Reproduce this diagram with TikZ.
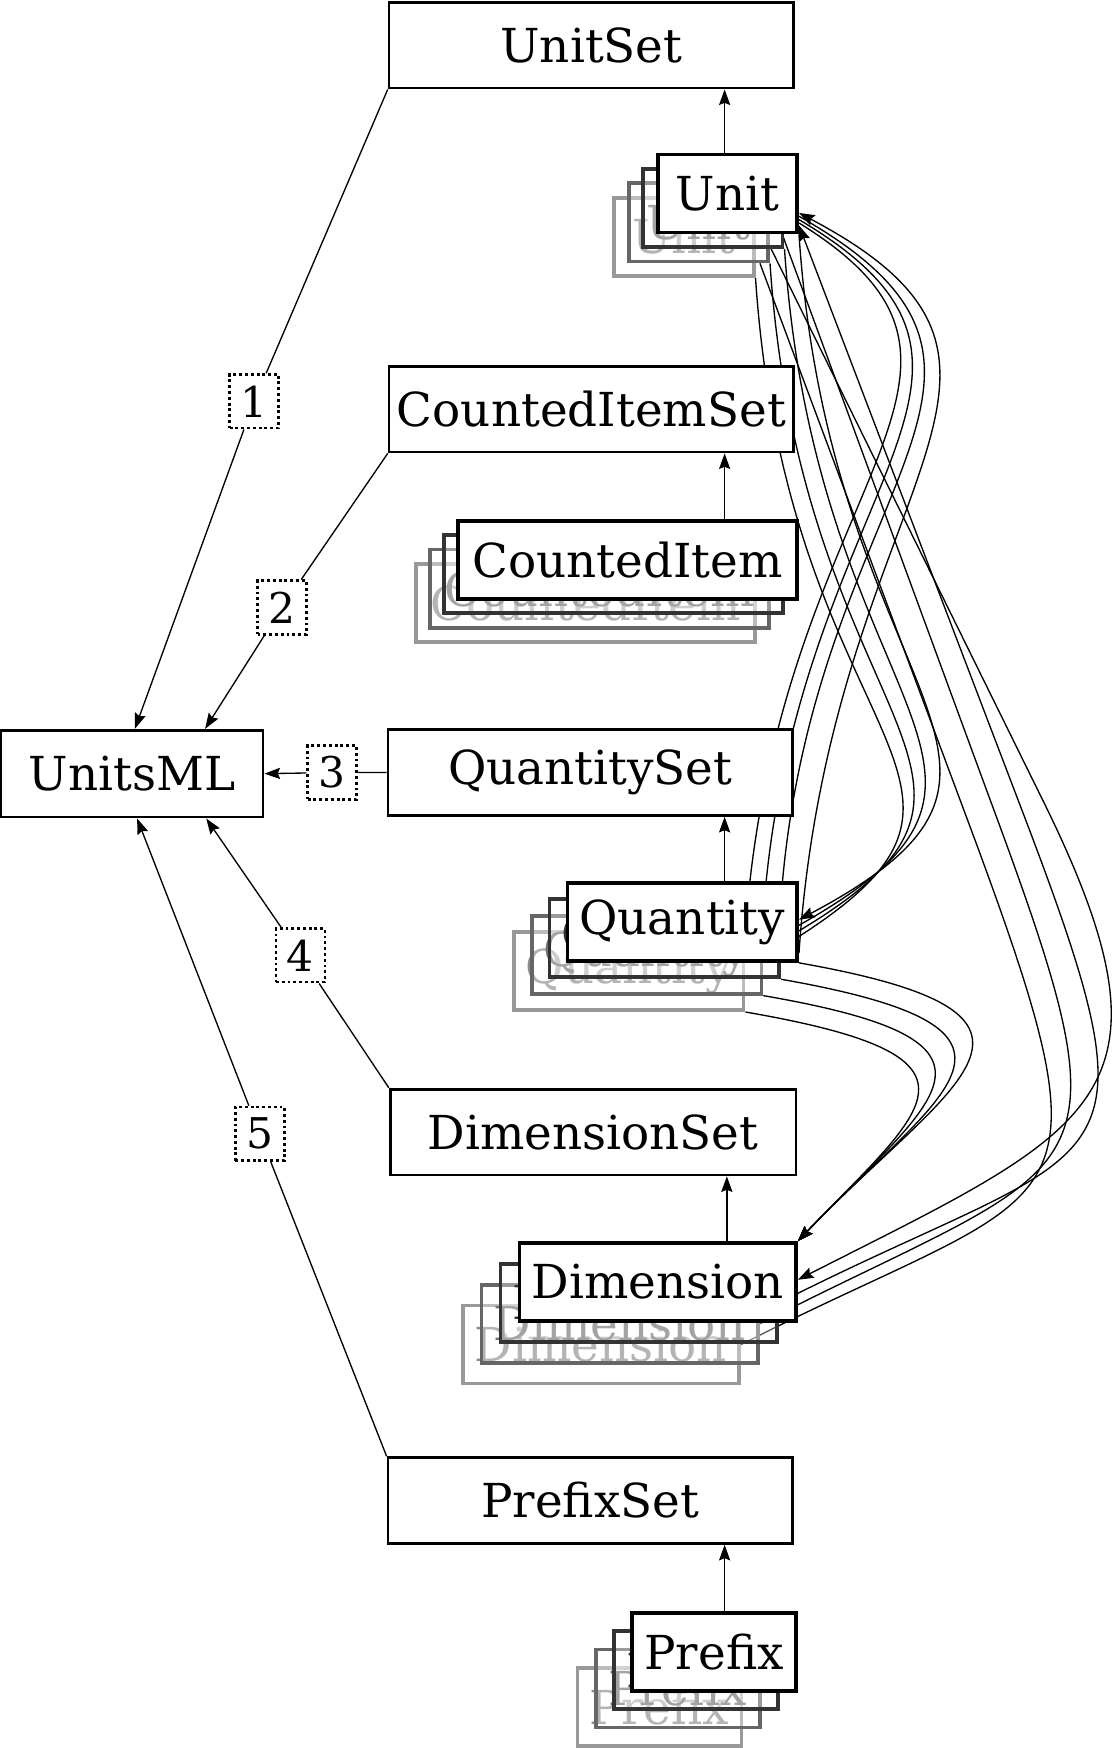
\documentclass[tikz,border=0pt]{standalone}
\usepackage{fontspec}
\setmainfont{DejaVu Serif}
\usetikzlibrary{arrows.meta,backgrounds,calc}
\newcommand{\dgfont}{\fontsize{42pt}{50pt}\selectfont}
\newcommand{\lblfont}{\fontsize{38pt}{44pt}\selectfont}
\newcommand{\mkstack}[7]{%
  \node[layerbox, lay3, minimum width=#4] (#13) at ({#2+3*(#5)},{#3+3*(#6)}) {#7};
  \node[layerbox, lay2, minimum width=#4] (#12) at ({#2+2*(#5)},{#3+2*(#6)}) {#7};
  \node[layerbox, lay1, minimum width=#4] (#11) at ({#2+(#5)},{#3+(#6)}) {#7};
  \node[layerbox, frontbox, minimum width=#4] (#10) at (#2,#3) {#7};
}
\begin{document}
\begin{tikzpicture}[x=1pt,y=-1pt,
  >={Stealth[length=14pt,width=10pt,inset=2pt]},
  setbox/.style={draw, line width=2.4pt, fill=white, minimum width=363pt, minimum height=77pt, font=\dgfont, inner sep=0pt},
  layerbox/.style={draw, line width=3.4pt, minimum height=70pt, font=\dgfont, inner sep=0pt},
  frontbox/.style={fill=white, draw=black, text=black},
  lay1/.style={fill=white, fill opacity=0.35, text opacity=1, draw=black!80, text=black!80},
  lay2/.style={fill=white, fill opacity=0.35, text opacity=1, draw=black!60, text=black!55},
  lay3/.style={fill=white, fill opacity=0.35, text opacity=1, draw=black!40, text=black!45},
  lbl/.style={draw, dash pattern=on 2.6pt off 2.6pt, line width=2.4pt, fill=white, minimum width=44pt, minimum height=48pt, font=\lblfont, inner sep=0pt},
  conn/.style={line width=1.2pt}
]
\useasboundingbox (0,0) rectangle (998,1568);

% set boxes
\node[setbox] (UnitSet) at (530.5,40.5) {UnitSet};
\node[setbox] (CISet) at (530.5,367) {CountedItemSet};
\node[setbox] (QSet) at (529.5,693) {QuantitySet};
\node[setbox, minimum width=364pt] (DSet) at (532,1015.5) {DimensionSet};
\node[setbox] (PSet) at (529.5,1346) {PrefixSet};
\node[setbox, minimum width=235pt, minimum height=78pt] (UnitsML) at (118.5,694) {UnitsML};

% stacks
\mkstack{U}{652.5}{173.5}{125pt}{-13}{13}{Unit}
\mkstack{C}{563}{502}{304pt}{-12.5}{13}{CountedItem}
\mkstack{Q}{612}{827}{206pt}{-16}{14.7}{Quantity}
\mkstack{D}{590}{1150}{248pt}{-17}{18.7}{Dimension}
\mkstack{P}{640.5}{1482}{147pt}{-16.3}{16.3}{Prefix}

% labels
\node[lbl] (L1) at (228,360) {1};
\node[lbl] (L2) at (253,545) {2};
\node[lbl] (L3) at (298,693) {3};
\node[lbl] (L4) at (269.5,857) {4};
\node[lbl] (L5) at (233,1017) {5};

\coordinate (cx) at (650,0);
\coordinate (cxd) at (652,0);

% vertical arrows
\draw[conn,->] (U0.north -| cx) -- (UnitSet.south -| cx);
\draw[conn,->] (C0.north -| cx) -- (CISet.south -| cx);
\draw[conn,->] (Q0.north -| cx) -- (QSet.south -| cx);
\draw[conn,->] (D0.north -| cxd) -- (DSet.south -| cxd);
\draw[conn,->] (P0.north -| cx) -- (PSet.south -| cx);

% left connectors
\draw[conn,->] (UnitSet.south west) -- (L1) -- ($(UnitsML.north)+(2.5,0)$);
\draw[conn,->] (CISet.south west) -- (L2) -- ($(UnitsML.north)+(65.5,0)$);
\draw[conn,->] (QSet.west) -- (L3) -- (UnitsML.east);
\draw[conn,->] (DSet.north west) -- (L4) -- ($(UnitsML.south)+(66.5,0)$);
\draw[conn,->] (PSet.north west) -- (L5) -- ($(UnitsML.south)+(4.5,0)$);

\begin{pgfonlayer}{background}
% Quantity -> Unit
\draw[conn,->] ($(Q0.east)+(0,28)$) .. controls (745,430) and (980,330) .. ($(U0.east)+(0,17.5)$);
\draw[conn] (Q1.north east) .. controls (729,430) and (965,335) .. ($(U0.east)+(0,20.5)$);
\draw[conn] (Q2.north east) .. controls (713,430) and (950,335) .. ($(U0.east)+(0,23.5)$);
\draw[conn] (Q3.north east) .. controls (697,430) and (935,335) .. ($(U0.east)+(0,26.5)$);
% Unit -> Quantity
\draw[conn,->] (U0.south east) .. controls (745,634) and (980,685) .. ($(Q0.east)+(0,-2)$);
\draw[conn] (U1.south east) .. controls (732,647) and (965,690) .. ($(Q0.east)+(0,3)$);
\draw[conn] (U2.south east) .. controls (719,660) and (950,695) .. ($(Q0.east)+(0,8)$);
\draw[conn] (U3.south east) .. controls (706,673) and (935,700) .. ($(Q0.east)+(0,13)$);
% Unit <-> Dimension
\draw[conn,->] ($(U1.south east)+(-12,0)$) -- (935,717) .. controls (1068,986) and (981,1013) .. ($(D0.east)+(0,-2)$);
\draw[conn,<-] ($(U0.south east)+(0,-8)$) -- (913,717) .. controls (1049,1072) and (1000,1016) .. (D1.east);
\draw[conn] ($(U0.south east)+(-15,0)$) -- (888,717) .. controls (1020,1073) and (983,1034) .. (D2.east);
\draw[conn] ($(U2.south east)+(-9,0)$) -- (861,717) .. controls (1008,1110) and (966,1053) .. (D3.east);
% Quantity -> Dimension
\draw[conn,->] (Q0.south east) .. controls (985,911) and (852,971) .. (D0.north east);
\draw[conn,->] (Q1.south east) .. controls (959,924) and (845,978) .. (D0.north east);
\draw[conn,->] (Q2.south east) .. controls (928,935) and (838,985) .. (D0.north east);
\draw[conn,->] (Q3.south east) .. controls (902,948) and (831,993) .. (D0.north east);
\end{pgfonlayer}
\end{tikzpicture}
\end{document}
